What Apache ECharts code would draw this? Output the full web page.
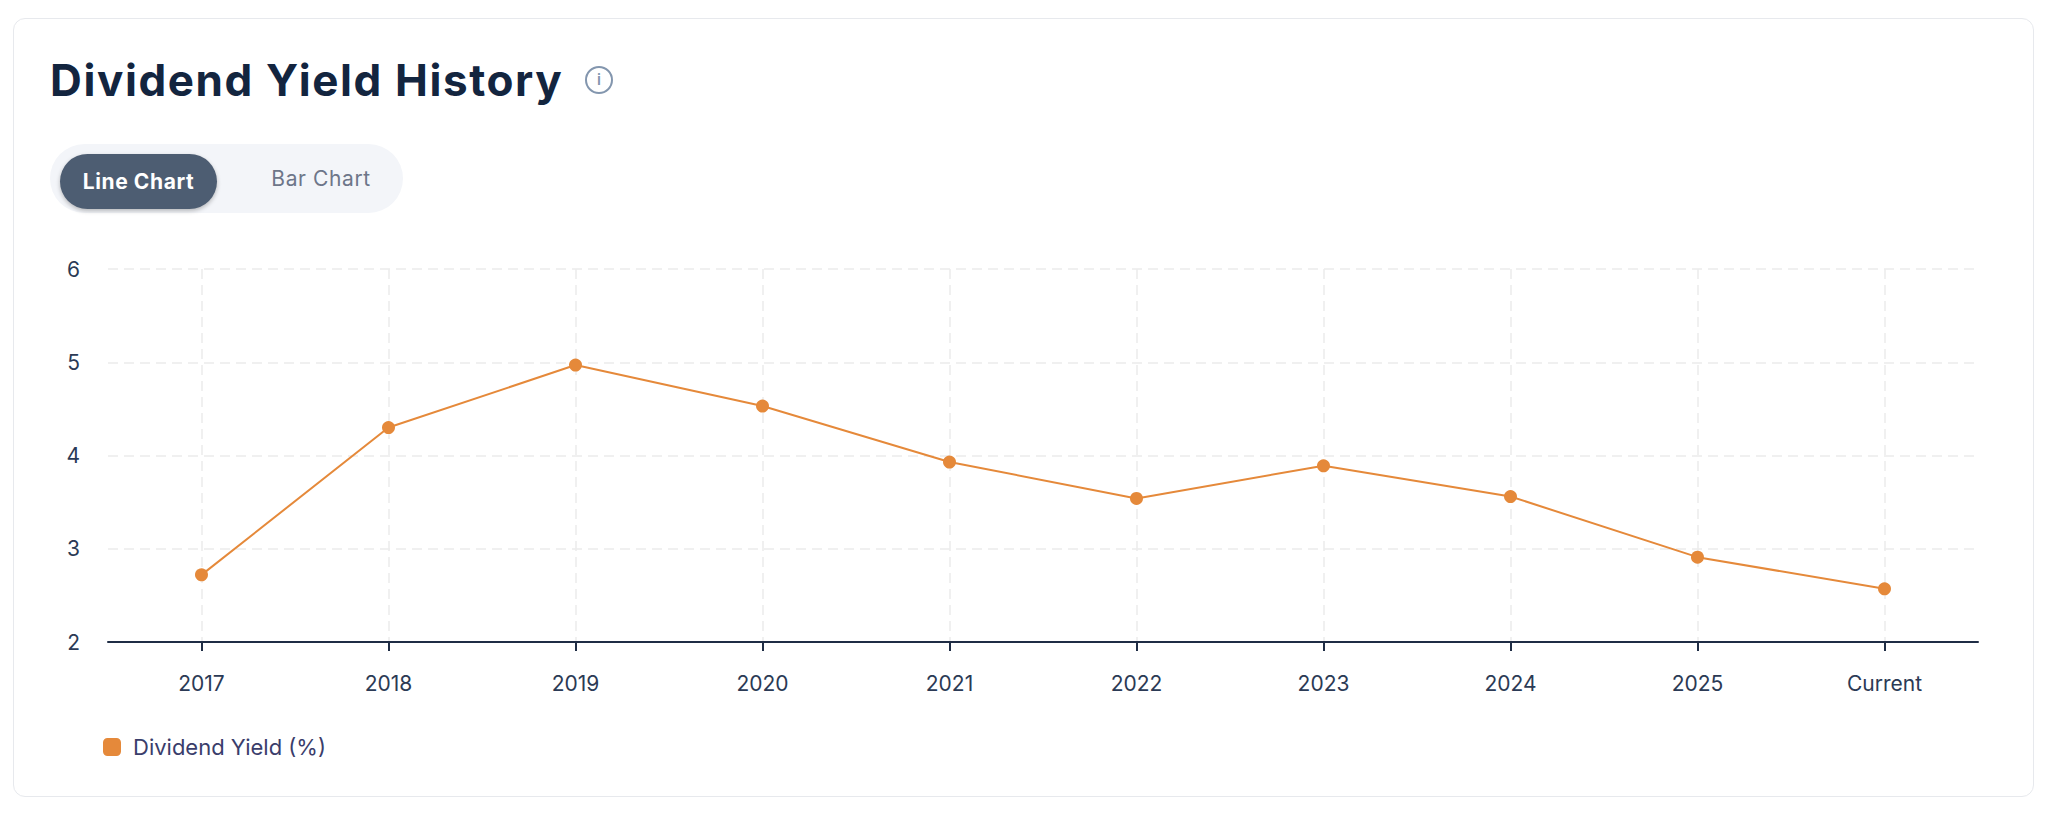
<!DOCTYPE html>
<html>
<head>
    <meta charset="utf-8">
    <title>Dividend Yield History</title>
    <script src="https://cdn.jsdelivr.net/npm/echarts@6/dist/echarts.min.js"></script>
    <style>
        html, body {
            margin: 0;
            padding: 0;
            background: #ffffff;
            font-family: Inter, "Open Sans", sans-serif;
        }

        .card {
            position: absolute;
            left: 13px;
            top: 18px;
            width: 2019px;
            height: 777px;
            border: 1.5px solid #e7e9ed;
            border-radius: 12px;
            background: #ffffff;
        }

        .title {
            position: absolute;
            left: 50px;
            top: 51px;
            font-size: 44px;
            font-weight: 700;
            color: #13253f;
            line-height: 58px;
            letter-spacing: 1.6px;
        }

        .info {
            position: absolute;
            left: 585px;
            top: 66px;
            width: 24px;
            height: 24px;
            border: 2px solid #8396ae;
            border-radius: 50%;
            color: #8396ae;
            font-size: 15px;
            font-weight: 600;
            text-align: center;
            line-height: 24px;
        }

        .toggle {
            position: absolute;
            left: 50px;
            top: 144px;
            width: 353px;
            height: 69px;
            border-radius: 35px;
            background: #f3f5f9;
        }

        .toggle .on {
            position: absolute;
            left: 10px;
            top: 10px;
            width: 157px;
            height: 55px;
            border-radius: 28px;
            background: #4d5d72;
            color: #ffffff;
            font-size: 21px;
            font-weight: 700;
            letter-spacing: 0.6px;
            text-align: center;
            line-height: 55px;
            box-shadow: 0 2px 4px rgba(0, 0, 0, 0.25);
        }

        .toggle .off {
            position: absolute;
            left: 206px;
            top: 10px;
            width: 130px;
            height: 50px;
            color: #6d7689;
            font-size: 21px;
            letter-spacing: 0.6px;
            text-align: center;
            line-height: 50px;
        }

        #chart {
            position: absolute;
            left: 0;
            top: 0;
            width: 2047px;
            height: 813px;
        }
    </style>
</head>
<body>
<div class="card"></div>
<div class="title">Dividend Yield History</div>
<div class="info">i</div>
<div class="toggle">
    <div class="on">Line Chart</div>
    <div class="off">Bar Chart</div>
</div>
<div id="chart"></div>
<script>
    // values
    var years = ['2017', '2018', '2019', '2020', '2021', '2022', '2023', '2024', '2025', 'Current'];
    var yieldPct = [2.72, 4.30, 4.97, 4.53, 3.93, 3.54, 3.89, 3.56, 2.91, 2.57];
    var seriesName = 'Dividend Yield (%)';

    var axisText = '#2b3a55';
    var gridGray = '#ebebeb';

    var chart = echarts.init(document.getElementById('chart'), null, {renderer: 'svg'});
    var option = {
        backgroundColor: 'transparent',
        textStyle: {fontFamily: 'Inter'},
        grid: {left: 108, right: 69, top: 269, bottom: 171},
        legend: {
            left: 103,
            top: 736,
            padding: 0,
            itemWidth: 18,
            itemHeight: 18,
            icon: 'roundRect',
            data: [seriesName],
            textStyle: {fontSize: 22, color: '#3a3d6b', padding: [0, 0, 0, 7]}
        },
        xAxis: {
            type: 'category',
            data: years,
            axisLine: {lineStyle: {color: '#1f2d45', width: 2}},
            axisTick: {show: true, alignWithLabel: true, length: 9, lineStyle: {color: '#1f2d45', width: 2}},
            axisLabel: {fontSize: 21, color: axisText, margin: 31},
            splitLine: {
                show: true,
                alignWithLabel: true,
                lineStyle: {color: gridGray, width: 1.5, type: [10, 6]}
            }
        },
        yAxis: {
            type: 'value',
            min: 2,
            max: 6,
            interval: 1,
            axisLine: {show: false},
            axisTick: {show: false},
            axisLabel: {fontSize: 21, color: axisText, margin: 28},
            splitLine: {lineStyle: {color: gridGray, width: 1.5, type: [10, 6]}}
        },
        series: [
            {
                name: seriesName,
                type: 'line',
                data: yieldPct,
                symbol: 'circle',
                symbolSize: 13,
                color: '#e5893a',
                lineStyle: {width: 2},
                z: 3
            }
        ]
    };
    chart.setOption(option);
</script>
</body>
</html>
